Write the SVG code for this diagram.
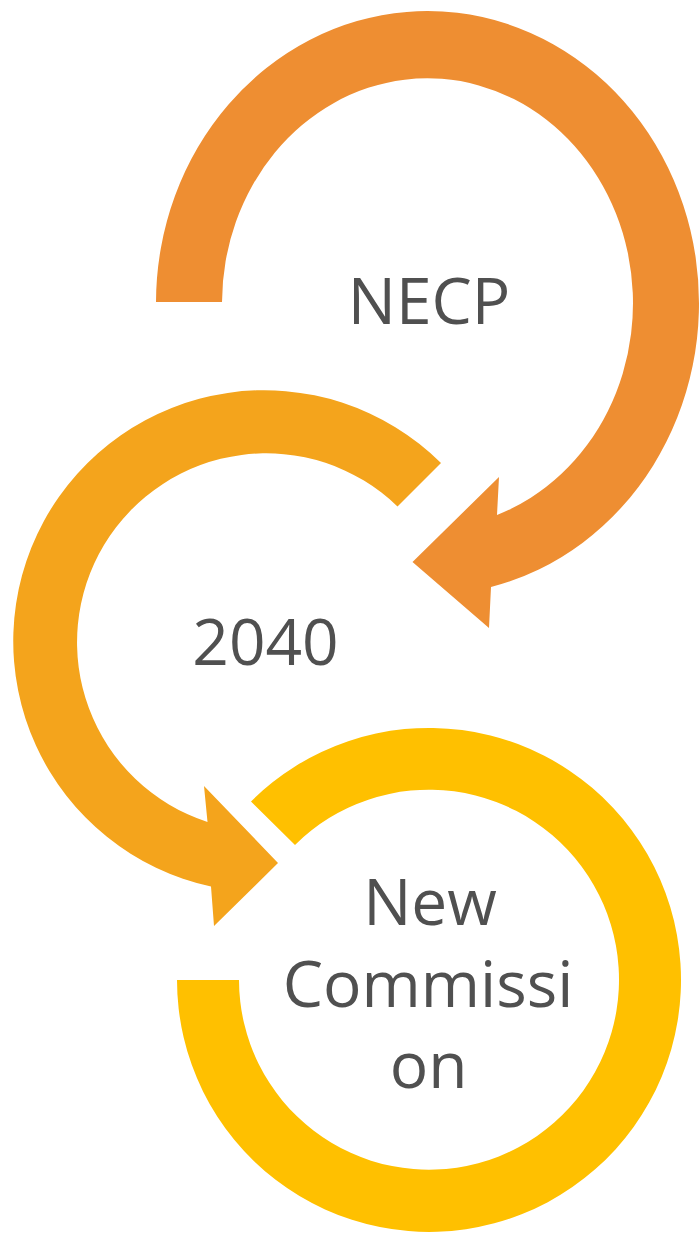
<svg xmlns="http://www.w3.org/2000/svg" width="700" height="1233" viewBox="0 0 700 1233">
  <style>
    .lbl { font-family: "Open Sans", "Liberation Sans", sans-serif; font-size: 64px; fill: #505050; text-anchor: middle; }
  </style>
  <rect width="700" height="1233" fill="#ffffff"/>
  <g id="connectors"></g>
  <g id="node-necp">
    <path fill="#EE8E32" d="M 156 302 A 271.5 292 0 1 1 491 587 L 489 628 L 412.5 562 L 499 477 L 497 515 A 205.5 225 0 1 0 222 302 Z"/>
    <text class="lbl" x="429" y="324">NECP</text>
  </g>
  <g id="node-2040">
    <path fill="#F4A41C" d="M 441 463 A 251 251 0 1 0 211 886.5 L 214 926 L 278 863 L 204 786 L 207.5 822 A 189 189 0 1 1 397.5 506.5 Z"/>
    <text class="lbl" x="265.5" y="665">2040</text>
  </g>
  <g id="node-newcommission">
    <path fill="#FFC000" d="M 251 801.5 A 252 252 0 1 1 177 980 L 239 980 A 190 190 0 1 0 295 845 Z"/>
    <text class="lbl" x="430" y="925">New</text>
    <text class="lbl" x="428" y="1006.5">Commissi</text>
    <text class="lbl" x="428.5" y="1088">on</text>
  </g>
</svg>
